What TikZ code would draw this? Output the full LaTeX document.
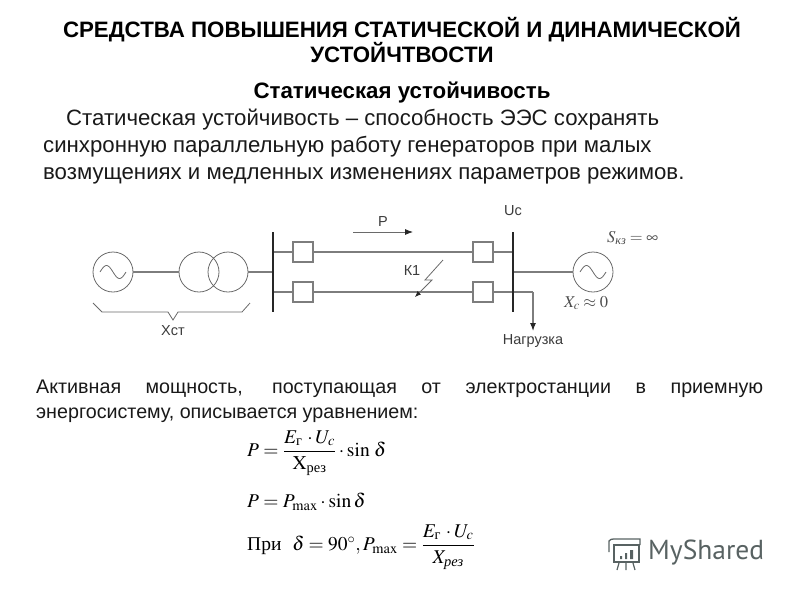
\documentclass[tikz,border=0pt]{standalone}
\usepackage{amsmath}
\usepackage{mathptmx}
\usepackage{fontspec}
\setmainfont{Liberation Sans}
\newfontfamily\serifcyr{Liberation Serif}
\newfontfamily\logofont{PT Sans}
\usetikzlibrary{arrows.meta}
\definecolor{Wire}{RGB}{125,125,125}
\definecolor{Ink}{RGB}{25,25,25}
\definecolor{Logo}{RGB}{88,98,98}
\newcommand{\Rsub}[1]{\text{\serifcyr #1}}
\newcommand{\Isub}[1]{\text{\serifcyr\itshape #1}}
\newcommand{\Sgen}[2]{%
    \node[gen] (#1) at (#2) {};
    \draw[thinwire, shift={(#1.center)}] plot[domain=-1:1, samples=30, smooth] ({13*\x},{6.5*sin(180*\x)});
  }
\newcommand{\Sbrk}[2]{%
    \node[brk] (#1) at (#2) {};
  }

\begin{document}
\begin{tikzpicture}[x=1pt,y=-1pt, every node/.style={font=\fontsize{14.5}{16}\selectfont, text=Ink!85},
    wire/.style={draw=Wire, line width=1.1pt},
    thinwire/.style={draw=Wire!85!black, line width=0.8pt},
    busbar/.style={draw=black!85, line width=1.6pt},
    gen/.style={circle, draw=Wire!85!black, line width=0.8pt, minimum size=40pt, inner sep=0pt},
    brk/.style={rectangle, draw=Wire, fill=white, line width=1.1pt, minimum size=20pt, inner sep=0pt},
    heading/.style={font=\fontsize{22.3}{25}\selectfont\bfseries, align=center, text=black},
    bodytext/.style={font=\fontsize{22.2}{27}\selectfont, text=Ink, inner sep=0pt, anchor=base west},
    lowertext/.style={font=\fontsize{19.7}{25}\selectfont, text=Ink},
    formula/.style={font=\fontsize{19.5}{22}\selectfont, text=black, inner sep=0pt, anchor=west}]
  \useasboundingbox (0,0) rectangle (800,600);

  % ------------------------------------------------
  % Headings and first paragraph
  % ------------------------------------------------
  \node[heading] (title) at (402,40) {СРЕДСТВА ПОВЫШЕНИЯ СТАТИЧЕСКОЙ И ДИНАМИЧЕСКОЙ\\УСТОЙЧТВОСТИ};
  \node[heading] (subtitle) at (402,93) {Статическая устойчивость};
  \node[bodytext] (line1) at (66,125) {Статическая устойчивость – способность ЭЭС сохранять};
  \node[bodytext] (line2) at (43,152) {синхронную параллельную работу генераторов при малых};
  \node[bodytext] (line3) at (43,179) {возмущениях и медленных изменениях параметров режимов.};

  % ------------------------------------------------
  % Single line scheme
  % ------------------------------------------------
  % Left side
  \Sgen{genA}{113,272}
  \node[gen] (trA) at (199,272) {};
  \node[gen] (trB) at (228,272) {};
  \coordinate (busLtop) at (273,232);
  \coordinate (busLbot) at (273,312);
  \coordinate (busLmid) at (273,272);
  \draw[wire] (genA) -- (trA);
  \draw[wire] (trB) -- (busLmid);

  % Right side
  \Sgen{genB}{593,272}
  \coordinate (busRtop) at (513,232);
  \coordinate (busRbot) at (513,312);
  \coordinate (busRmid) at (513,272);
  \draw[wire] (busRmid) -- (genB);

  % Two lines with breakers
  \coordinate (upL) at (273,252);
  \coordinate (upR) at (513,252);
  \coordinate (loL) at (273,292);
  \coordinate (loR) at (533,292);
  \coordinate (loadEnd) at (533,331);
  \draw[wire] (upL) -- (upR);
  \draw[wire] (loL) -- (loR);
  \draw[wire, -{Latex[length=8pt,width=6pt,black!85]}] (loR) -- (loadEnd);
  \Sbrk{brkA}{303,252}
  \Sbrk{brkB}{303,292}
  \Sbrk{brkC}{483,252}
  \Sbrk{brkD}{483,292}

  % Busbars
  \draw[busbar] (busLtop) -- (busLbot);
  \draw[busbar] (busRtop) -- (busRbot);

  % Power arrow
  \coordinate (powA) at (353,232);
  \coordinate (powB) at (413,232);
  \draw[thinwire, -{Latex[length=8pt,width=6pt,black!85]}] (powA) -- (powB);
  \node (labP) at (383,222) {P};

  % Fault K1
  \coordinate (faultA) at (443,260);
  \coordinate (faultB) at (425,280);
  \coordinate (faultC) at (432,280);
  \coordinate (faultD) at (415,297);
  \draw[thinwire, -{Latex[length=6pt,width=5pt,black!85]}] (faultA) -- (faultB) -- (faultC) -- (faultD);
  \node (labK) at (412,271) {К1};

  % Brace under generator and transformer
  \draw[thinwire] (93,303) -- (102,312) -- (168,312) -- (173,320) -- (178,312) -- (242,312) -- (250,303);
  \node (labX) at (173,331) {Хст};

  % Labels
  \node (labU) at (513,211) {Uc};
  \node (labLoad) at (533,341) {Нагрузка};
  \node[formula, font=\fontsize{16.5}{17}\selectfont, text=black!70] (labS) at (607,238) {$S_{\Isub{кз}}=\infty$};
  \node[formula, font=\fontsize{16.5}{17}\selectfont, text=black!70] (labXc) at (564,303) {$X_{c}\approx 0$};

  % ------------------------------------------------
  % Second paragraph and formulas
  % ------------------------------------------------
  \node[lowertext, inner sep=0pt, anchor=north west, text width=727pt, align=justify] (para) at (36,379.5)
    {Активная мощность, поступающая от электростанции в приемную \mbox{энергосистему,} описывается уравнением:};

  \node[formula] (eqA) at (247,453) {$P=\dfrac{E_{\Rsub{г}}\,\cdot U_{c}}{\mathrm{X}_{\Rsub{рез}}}\cdot\sin\,\delta$};
  \node[formula] (eqB) at (247,502) {$P=P_{\max}\cdot\sin\delta$};
  \node[formula] (eqC) at (247,547) {{\serifcyr При}\ \ $\delta=90^{\circ},P_{\max}=\dfrac{E_{\Rsub{г}}\,\cdot U_{c}}{X_{\Isub{рез}}}$};

  % ------------------------------------------------
  % Logo
  % ------------------------------------------------
  \node[font=\fontsize{27.5}{30}\selectfont\logofont, text=Logo, inner sep=0pt, anchor=west] (logo) at (648,553) {MyShared};
  \draw[draw=Logo, line width=1.3pt] (614,545) rectangle (639,562);
  \draw[draw=Logo, line width=1.3pt] (609,552) -- (609,541) to[bend left=30] (614,539) -- (640,539) -- (640,545);
  \fill[Logo] (620,556) rectangle (622,559) (625,553) rectangle (627,559) (630,550) rectangle (633,559);
  \draw[draw=Logo, line width=1.2pt] (619,563) -- (617,570) (626,563) -- (626,570) (633,563) -- (635,570);
\end{tikzpicture}
\end{document}
